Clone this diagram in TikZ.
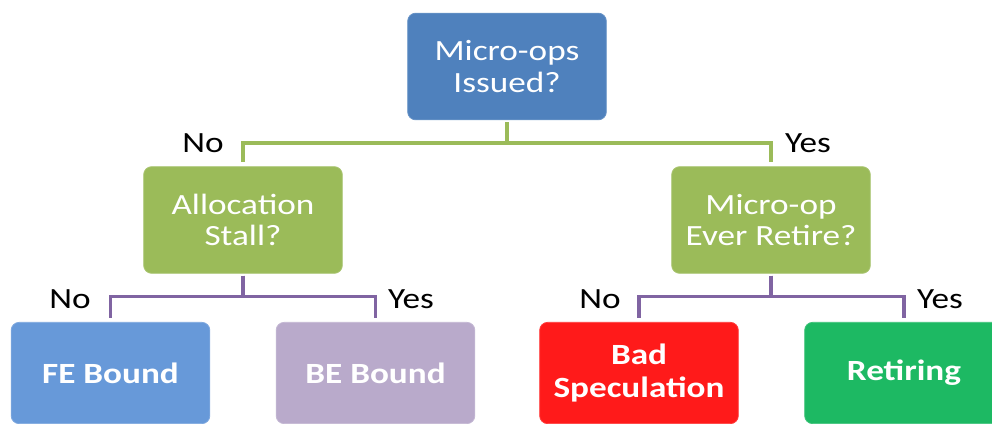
\documentclass[tikz,border=0pt]{standalone}
\usepackage{fontspec}
\setmainfont{Carlito}[FakeStretch=1.2]
\usepackage{xcolor}
\definecolor{qblue}{HTML}{4F81BD}
\definecolor{qgreen}{HTML}{9BBB59}
\definecolor{qpurple}{HTML}{8064A2}
\definecolor{feblue}{HTML}{6799D9}
\definecolor{belilac}{HTML}{B9AACB}
\definecolor{badred}{HTML}{FF1A1A}
\definecolor{retgreen}{HTML}{1DB963}
\tikzset{
  qbox/.style={rounded corners=6pt, draw=#1!85!white, line width=0.6pt, fill=#1,
    text=white, align=center, minimum width=149pt, minimum height=80pt,
    inner sep=0pt, font=\fontsize{22}{23.5}\selectfont},
  leafbox/.style={qbox=#1, minimum height=76pt, font=\fontsize{22}{24.5}\selectfont\bfseries},
  answer/.style={anchor=base, font=\fontsize{22}{23}\selectfont, text=black},
  grnline/.style={draw=qgreen, line width=2.6pt, shorten <=1.5pt, shorten >=3pt},
  prpline/.style={draw=qpurple, line width=2.3pt, shorten <=1.5pt, shorten >=3pt}
}

\begin{document}
\begin{tikzpicture}[x=0.75pt, y=-0.75pt]
      \clip (0,0) rectangle (992,424);
      \useasboundingbox (0,0) rectangle (992,424);

      % questions
      \node[qbox=qblue] (issued) at (507,66.5) {Micro-ops\\Issued?};
      \node[qbox=qgreen] (alloc) at (243,220) {Allocation\\Stall?};
      \node[qbox=qgreen] (retire) at (771,220) {Micro-op\\Ever Retire?};

      % leaves
      \node[leafbox=feblue] (fe) at (110.5,373) {FE Bound};
      \node[leafbox=belilac] (be) at (375.5,373) {BE Bound};
      \node[leafbox=badred] (badspec) at (639,373) {Bad\\Speculation};
      \node[leafbox=retgreen] (retiring) at (904,373) {Retiring};

      % connectors
      \draw[grnline] (issued.south) -- ++(0,23) -| (alloc.north);
      \draw[grnline] (issued.south) -- ++(0,23) -| (retire.north);
      \draw[prpline] (alloc.south) -- ++(0,23) -| (fe.north);
      \draw[prpline] (alloc.south) -- ++(0,23) -| (be.north);
      \draw[prpline] (retire.south) -- ++(0,23) -| (badspec.north);
      \draw[prpline] (retire.south) -- ++(0,23) -| (retiring.north);

      % answers
      \node[answer] (no1) at (203,153) {No};
      \node[answer] (yes1) at (808,153) {Yes};
      \node[answer] (no2) at (70,308) {No};
      \node[answer] (yes2) at (411,308) {Yes};
      \node[answer] (no3) at (600,308) {No};
      \node[answer] (yes3) at (940,308) {Yes};
    \end{tikzpicture}
\end{document}
